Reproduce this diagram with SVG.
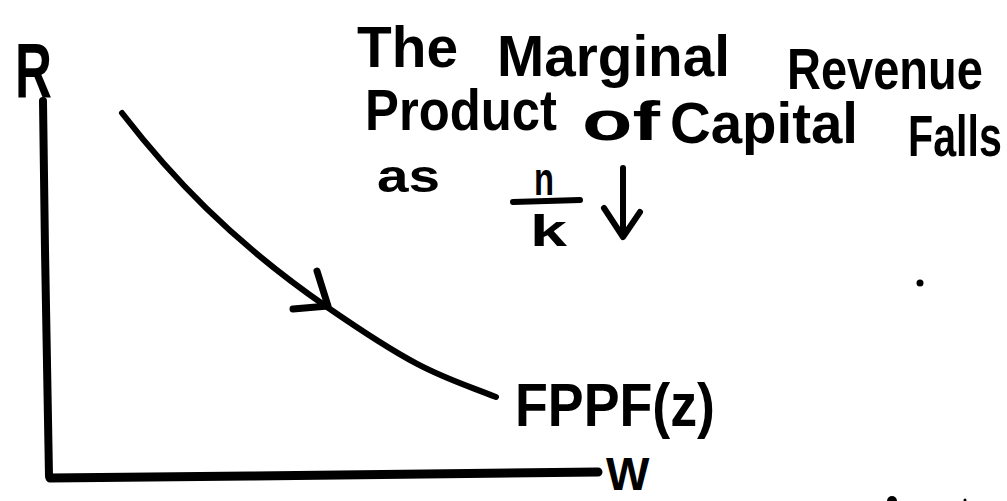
<svg xmlns="http://www.w3.org/2000/svg" width="1007" height="501" viewBox="0 0 1007 501">
  <style>
    .ink { fill: none; stroke: #000; stroke-linecap: round; stroke-linejoin: round; }
    .hand { font-family: "Liberation Sans", "DejaVu Sans", sans-serif; font-weight: bold; fill: #000; }
  </style>
  <rect width="1007" height="501" fill="#fff"/>

  <g id="axes">
    <path class="ink" d="M43,101 L45,250 L49,476" stroke-width="8"/>
    <path class="ink" d="M50,478 L250,476 L598,472" stroke-width="9"/>
    <text id="label-R" class="hand" x="15" y="97" font-size="78" textLength="37" lengthAdjust="spacingAndGlyphs">R</text>
    <text id="label-W" class="hand" x="606" y="490" font-size="46">W</text>
  </g>

  <g id="connectors">
    <path id="curve" class="ink" d="M122,113 C170,175 230,240 327,307 S440,375 496,397" stroke-width="6"/>
    <path id="curve-arrow" class="ink" d="M317,271 L328,306 L293,309" stroke-width="7"/>
  </g>

  <g id="curve-label">
    <text class="hand" x="515" y="426" font-size="62" textLength="200" lengthAdjust="spacingAndGlyphs">FPPF(z)</text>
  </g>

  <g id="title">
    <text class="hand" x="357" y="67" font-size="58" textLength="101" lengthAdjust="spacingAndGlyphs">The</text>
    <text class="hand" x="497" y="76" font-size="58" textLength="233" lengthAdjust="spacingAndGlyphs">Marginal</text>
    <text class="hand" transform="translate(787,89) scale(0.81,1)" font-size="58">Revenue</text>
    <text class="hand" x="365" y="130" font-size="58" textLength="192" lengthAdjust="spacingAndGlyphs">Product</text>
    <text class="hand" x="582" y="140" font-size="56" textLength="78" lengthAdjust="spacingAndGlyphs">of</text>
    <text class="hand" x="670" y="143" font-size="58" textLength="188" lengthAdjust="spacingAndGlyphs">Capital</text>
    <text class="hand" transform="translate(908,156) scale(0.71,1)" font-size="58">Falls</text>
    <text class="hand" x="377" y="192" font-size="46" textLength="63" lengthAdjust="spacingAndGlyphs">as</text>
  </g>

  <g id="fraction">
    <text class="hand" x="534" y="195" font-size="46" textLength="20" lengthAdjust="spacingAndGlyphs">n</text>
    <path class="ink" d="M513,202 L580,200" stroke-width="6"/>
    <text class="hand" x="530" y="246" font-size="44" textLength="37" lengthAdjust="spacingAndGlyphs">k</text>
    <path class="ink" d="M623,168 L623,236" stroke-width="6"/>
    <path class="ink" d="M604,208 L623,237 L640,212" stroke-width="6"/>
  </g>

  <g id="specks" fill="#000">
    <circle cx="920" cy="283" r="3.5"/>
    <circle cx="892" cy="501" r="5"/>
    <circle cx="965" cy="500" r="1.5"/>
  </g>
</svg>
